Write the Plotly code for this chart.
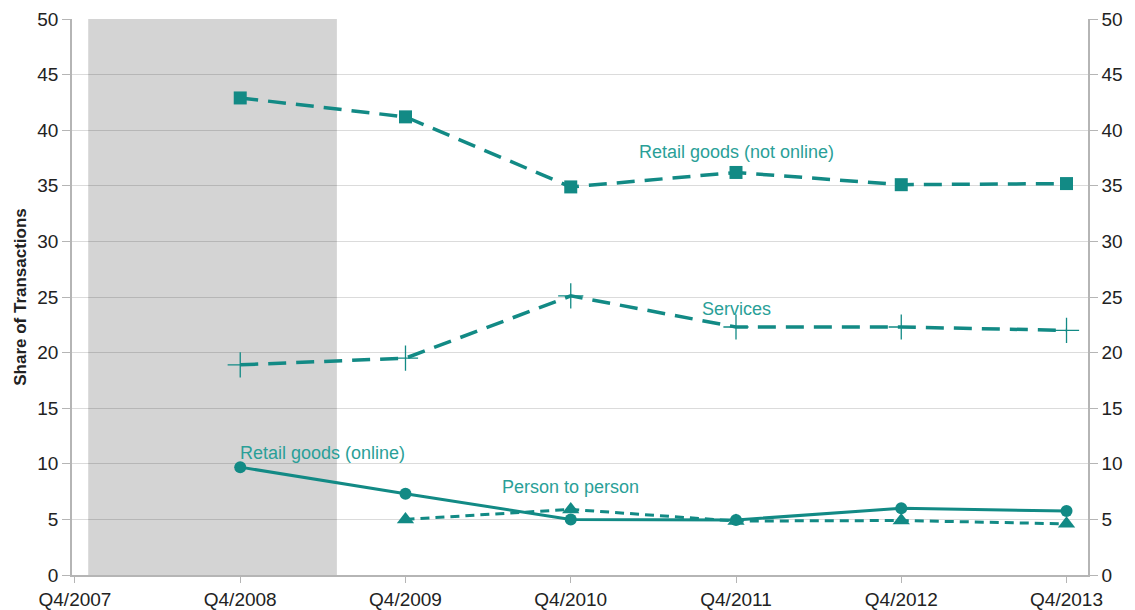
import plotly.graph_objects as go

# Quarter labels along the x axis
quarters = ["Q4/2007", "Q4/2008", "Q4/2009", "Q4/2010", "Q4/2011", "Q4/2012", "Q4/2013"]
x_pos = list(range(len(quarters)))

# Share of transactions (%) by payment purpose
retail_not_online = [None, 42.9, 41.2, 34.9, 36.2, 35.1, 35.2]
services = [None, 18.9, 19.5, 25.1, 22.3, 22.3, 22.0]
retail_online = [None, 9.7, 7.3, 5.0, 4.95, 6.0, 5.75]
person_to_person = [None, None, 5.0, 5.9, 4.85, 4.9, 4.6]

# Recession period (in quarter-index units)
recession_start = 0.08
recession_end = 1.585

LINE = "#128a85"
TEXT = "#2a9f98"
GRID = "rgba(0,0,0,0.14)"
AXIS = "#b5b5b5"
FONT = "Liberation Sans, Arial, sans-serif"

fig = go.Figure()

fig.add_trace(go.Scatter(
    x=x_pos, y=retail_not_online, mode="lines+markers", name="Retail goods (not online)",
    line=dict(color=LINE, width=3.5, dash="18px,10px"),
    marker=dict(symbol="square", size=13, color=LINE),
))
fig.add_trace(go.Scatter(
    x=x_pos, y=services, mode="lines+markers", name="Services",
    line=dict(color=LINE, width=3.5, dash="18px,10px"),
    marker=dict(symbol="cross-thin", size=18, color=LINE, line=dict(color=LINE, width=1.3)),
))
fig.add_trace(go.Scatter(
    x=x_pos, y=retail_online, mode="lines+markers", name="Retail goods (online)",
    line=dict(color=LINE, width=3),
    marker=dict(symbol="circle", size=12, color=LINE),
))
# Drawn against the right-hand axis (same 0-50 scale) so that axis is rendered
fig.add_trace(go.Scatter(
    x=x_pos, y=person_to_person, mode="lines+markers", name="Person to person",
    line=dict(color=LINE, width=3, dash="9px,6px"),
    marker=dict(symbol="triangle-up", size=15, color=LINE),
    yaxis="y2",
))

# Translucent band so the gridlines still show through it
fig.add_shape(
    type="rect", xref="x", yref="y", x0=recession_start, x1=recession_end, y0=0, y1=50,
    fillcolor="rgba(0,0,0,0.17)", line=dict(width=0), layer="between",
)

labels = [
    ("Retail goods (not online)", 4.0, 38.0),
    ("Services", 4.0, 23.9),
    ("Retail goods (online)", 1.5, 11.0),
    ("Person to person", 3.0, 7.9),
]
for text, lx, ly in labels:
    fig.add_annotation(x=lx, y=ly, text=text, showarrow=False,
                       font=dict(family=FONT, size=18, color=TEXT))

y_ticks = list(range(0, 51, 5))
axis_common = dict(
    range=[0, 50], tickvals=y_ticks, ticks="outside", ticklen=8, tickcolor=AXIS,
    showline=True, linecolor=AXIS, linewidth=1.5, zeroline=False, automargin=False,
    tickfont=dict(family=FONT, size=19, color="#222222"),
)

fig.update_layout(
    width=1135, height=610,
    margin=dict(l=72, r=47, t=19, b=35),
    plot_bgcolor="white", paper_bgcolor="white",
    showlegend=False,
    font=dict(family=FONT, color="#222222"),
    xaxis=dict(
        range=[-0.018, 6.13], tickvals=x_pos, ticktext=quarters,
        ticks="outside", ticklen=6, tickcolor=AXIS, automargin=False,
        showline=True, linecolor=AXIS, linewidth=1.5, showgrid=False, zeroline=False,
        tickfont=dict(family=FONT, size=19, color="#222222"),
    ),
    yaxis=dict(
        **axis_common, showgrid=True, gridcolor=GRID, gridwidth=1,
        title=dict(text="<b>Share of Transactions</b>", standoff=6,
                   font=dict(family=FONT, size=17, color="#222222")),
    ),
    yaxis2=dict(
        **axis_common, overlaying="y", side="right", showgrid=False,
    ),
)

fig.write_html("out.html")
